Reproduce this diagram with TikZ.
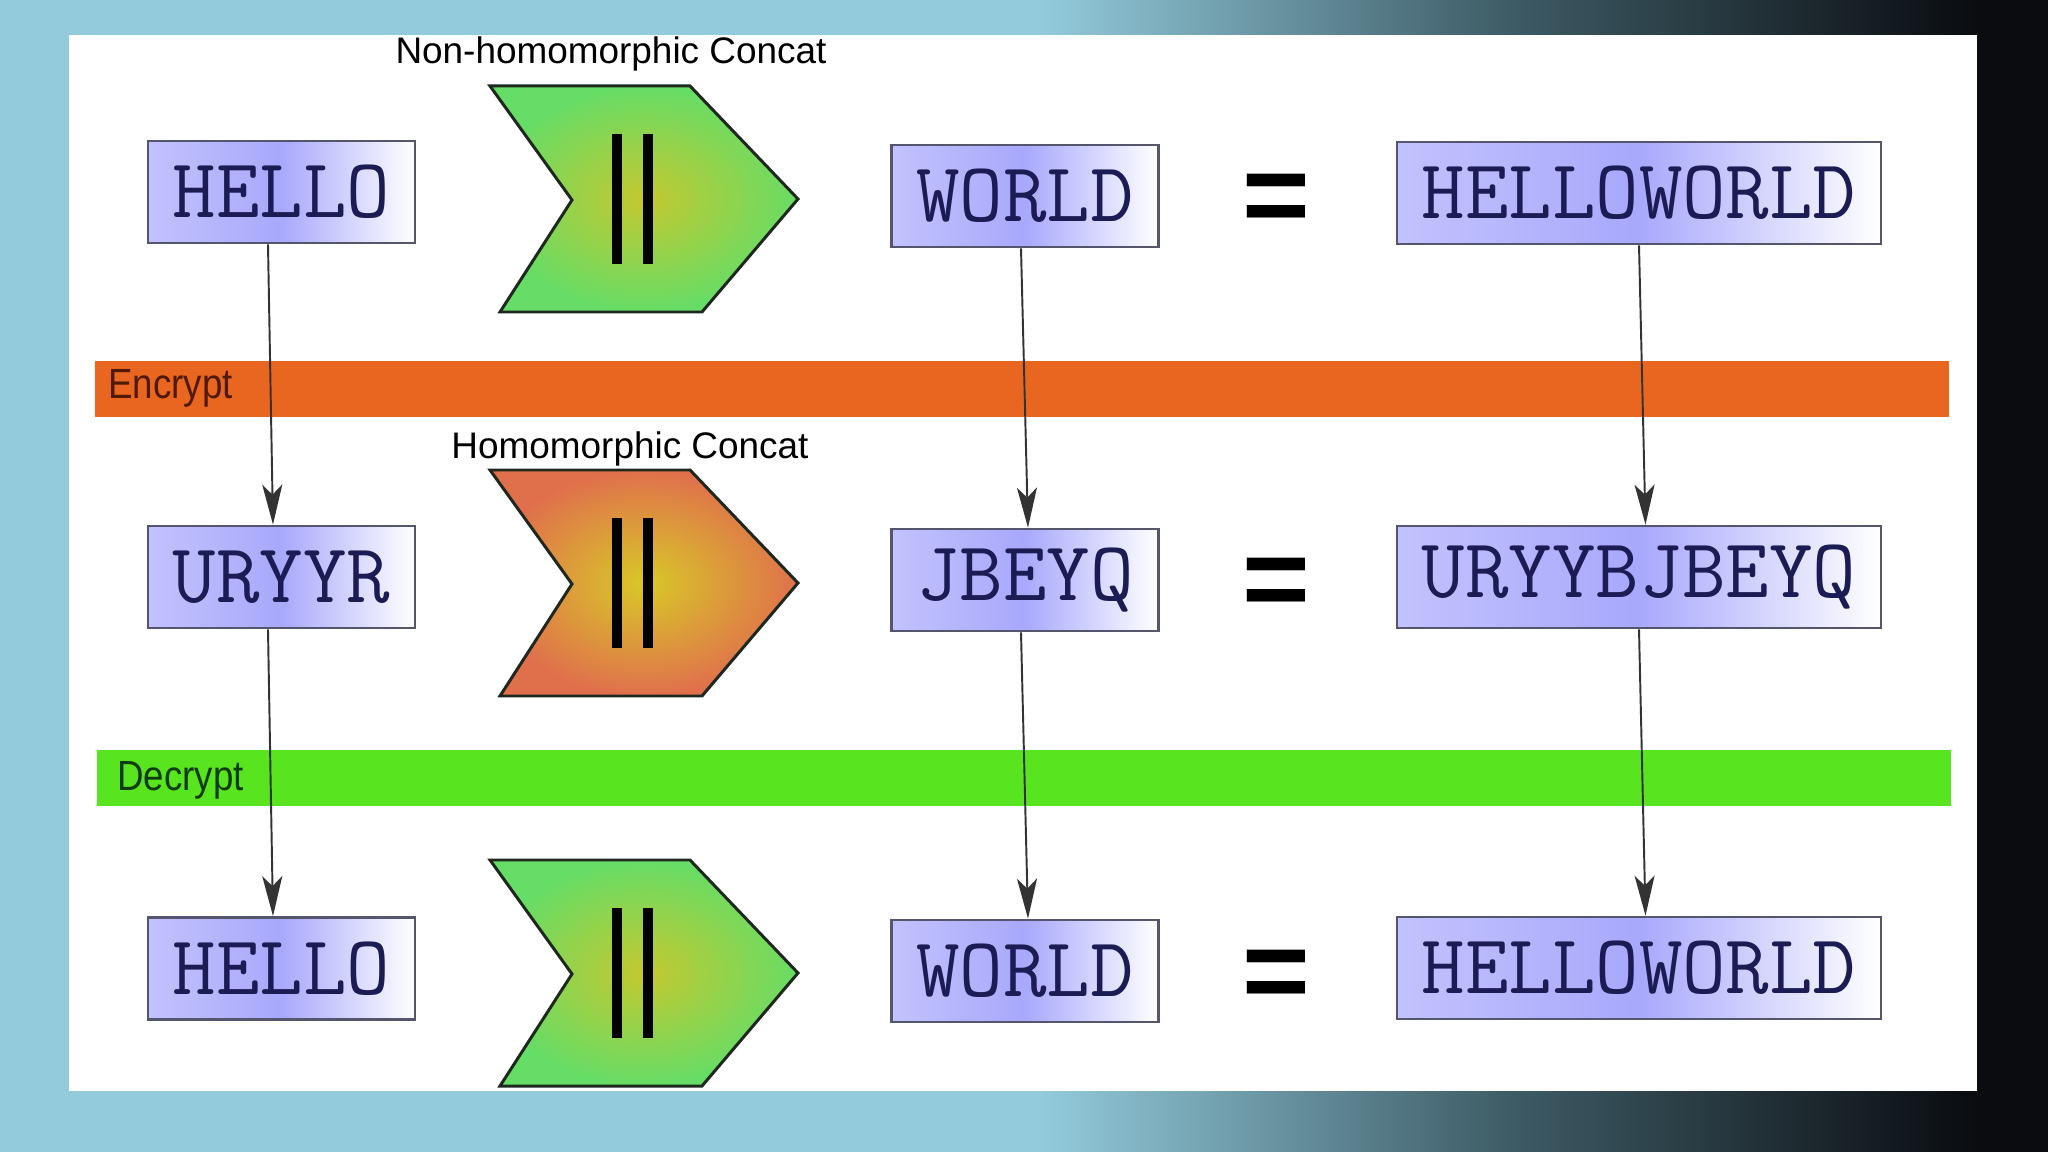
\documentclass[tikz,border=0pt]{standalone}
\usepackage{fontspec}
\setmainfont{Liberation Sans}
\newfontfamily\bandfont[FakeStretch=0.87]{Liberation Sans}
\usepackage{tikz}
\usetikzlibrary{arrows.meta}

\definecolor{bgblue}{RGB}{147,203,220}
\definecolor{bgmid}{RGB}{62,92,102}
\definecolor{bgdark}{RGB}{10,12,16}
\definecolor{boxblue}{RGB}{168,168,252}
\definecolor{boxline}{RGB}{85,85,110}
\definecolor{wordink}{RGB}{28,28,85}
\definecolor{encorange}{RGB}{232,102,32}
\definecolor{enctext}{RGB}{80,25,10}
\definecolor{decgreen}{RGB}{88,228,30}
\definecolor{dectext}{RGB}{15,60,15}
\definecolor{chevgreen}{RGB}{102,221,102}
\definecolor{chevyellow}{RGB}{196,200,48}
\definecolor{chevamber}{RGB}{216,200,40}
\definecolor{chevorange}{RGB}{224,112,76}
\definecolor{chevline}{RGB}{30,40,30}

\begin{document}
\begin{tikzpicture}[x=0.01cm, y=-0.01cm,
  word/.style={draw=boxline, line width=0.75pt, left color=boxblue!70, right color=white,
    middle color=boxblue, text=wordink, font=\ttfamily\fontsize{24}{24}\selectfont,
    minimum height=1.02cm, inner sep=0pt},
  short/.style={word, minimum width=2.67cm},
  long/.style={word, minimum width=4.84cm},
  link/.style={draw=black!80, line width=0.55pt, -{Stealth[length=0.4cm, width=0.2cm, inset=0.1cm]}},
  chevron/.style={draw=chevline, line width=0.85pt, shading=radial},
  bars/.style={line width=0.1cm},
  equal/.style={font=\bfseries\fontsize{33}{33}\selectfont},
  concat/.style={font=\fontsize{10.5}{12}\selectfont},
  bandlabel/.style={anchor=west, font=\bandfont\fontsize{12}{12}\selectfont}]
  \useasboundingbox (0,0) rectangle (2048,1152);

  % background and white sheet
  \fill[bgblue] (0,0) rectangle (2048,1152);
  \shade[left color=bgblue, right color=bgdark, middle color=bgmid] (1040,0) rectangle (1975,1152);
  \fill[bgdark] (1974,0) rectangle (2048,1152);
  \fill[white] (69,35) rectangle (1977,1091);

  % encrypt / decrypt bands
  \fill[encorange] (95,361) rectangle (1949,417);
  \node[bandlabel, text=enctext] (enc) at (96,388) {Encrypt};
  \fill[decgreen] (97,750) rectangle (1951,806);
  \node[bandlabel, text=dectext] (dec) at (105,780) {Decrypt};

  % concat operators
  \foreach \cy/\cin/\cout in {86/chevyellow/chevgreen, 470/chevamber/chevorange, 860/chevyellow/chevgreen} {
    \begin{scope}[shift={(490,\cy)}]
      \draw[chevron, inner color=\cin, outer color=\cout] (0,0) -- (200,0) -- (308,113) -- (212,226) -- (10,226) -- (82,114) -- cycle;
      \draw[bars] (127,48) -- (127,178) (158,48) -- (158,178);
    \end{scope}
  }
  \node[concat] (nonhom) at (611,54) {Non-homomorphic Concat};
  \node[concat] (hom) at (630,449) {Homomorphic Concat};

  % plaintext row
  \node[short] (hello1) at (281.5,192) {HELLO};
  \node[short] (world1) at (1025,196) {WORLD};
  \node[equal] (eq1) at (1276,204) {=};
  \node[long] (hw1) at (1639,193) {HELLOWORLD};

  % ciphertext row
  \node[short] (cip1) at (281.5,577) {URYYR};
  \node[short] (cip2) at (1025,580) {JBEYQ};
  \node[equal] (eq2) at (1276,588) {=};
  \node[long] (cip12) at (1639,577) {URYYBJBEYQ};

  % decrypted row
  \node[short] (hello2) at (281.5,968.5) {HELLO};
  \node[short] (world2) at (1025,971) {WORLD};
  \node[equal] (eq3) at (1276,980) {=};
  \node[long] (hw2) at (1639,968) {HELLOWORLD};

  % encrypt / decrypt arrows
  \draw[link] ([xshift=-0.135cm]hello1.south) -- ([xshift=-0.085cm]cip1.north);
  \draw[link] ([xshift=-0.04cm]world1.south) -- ([xshift=0.03cm]cip2.north);
  \draw[link] (hw1.south) -- ([xshift=0.065cm]cip12.north);
  \draw[link] ([xshift=-0.135cm]cip1.south) -- ([xshift=-0.085cm]hello2.north);
  \draw[link] ([xshift=-0.04cm]cip2.south) -- ([xshift=0.03cm]world2.north);
  \draw[link] (cip12.south) -- ([xshift=0.065cm]hw2.north);
\end{tikzpicture}
\end{document}
